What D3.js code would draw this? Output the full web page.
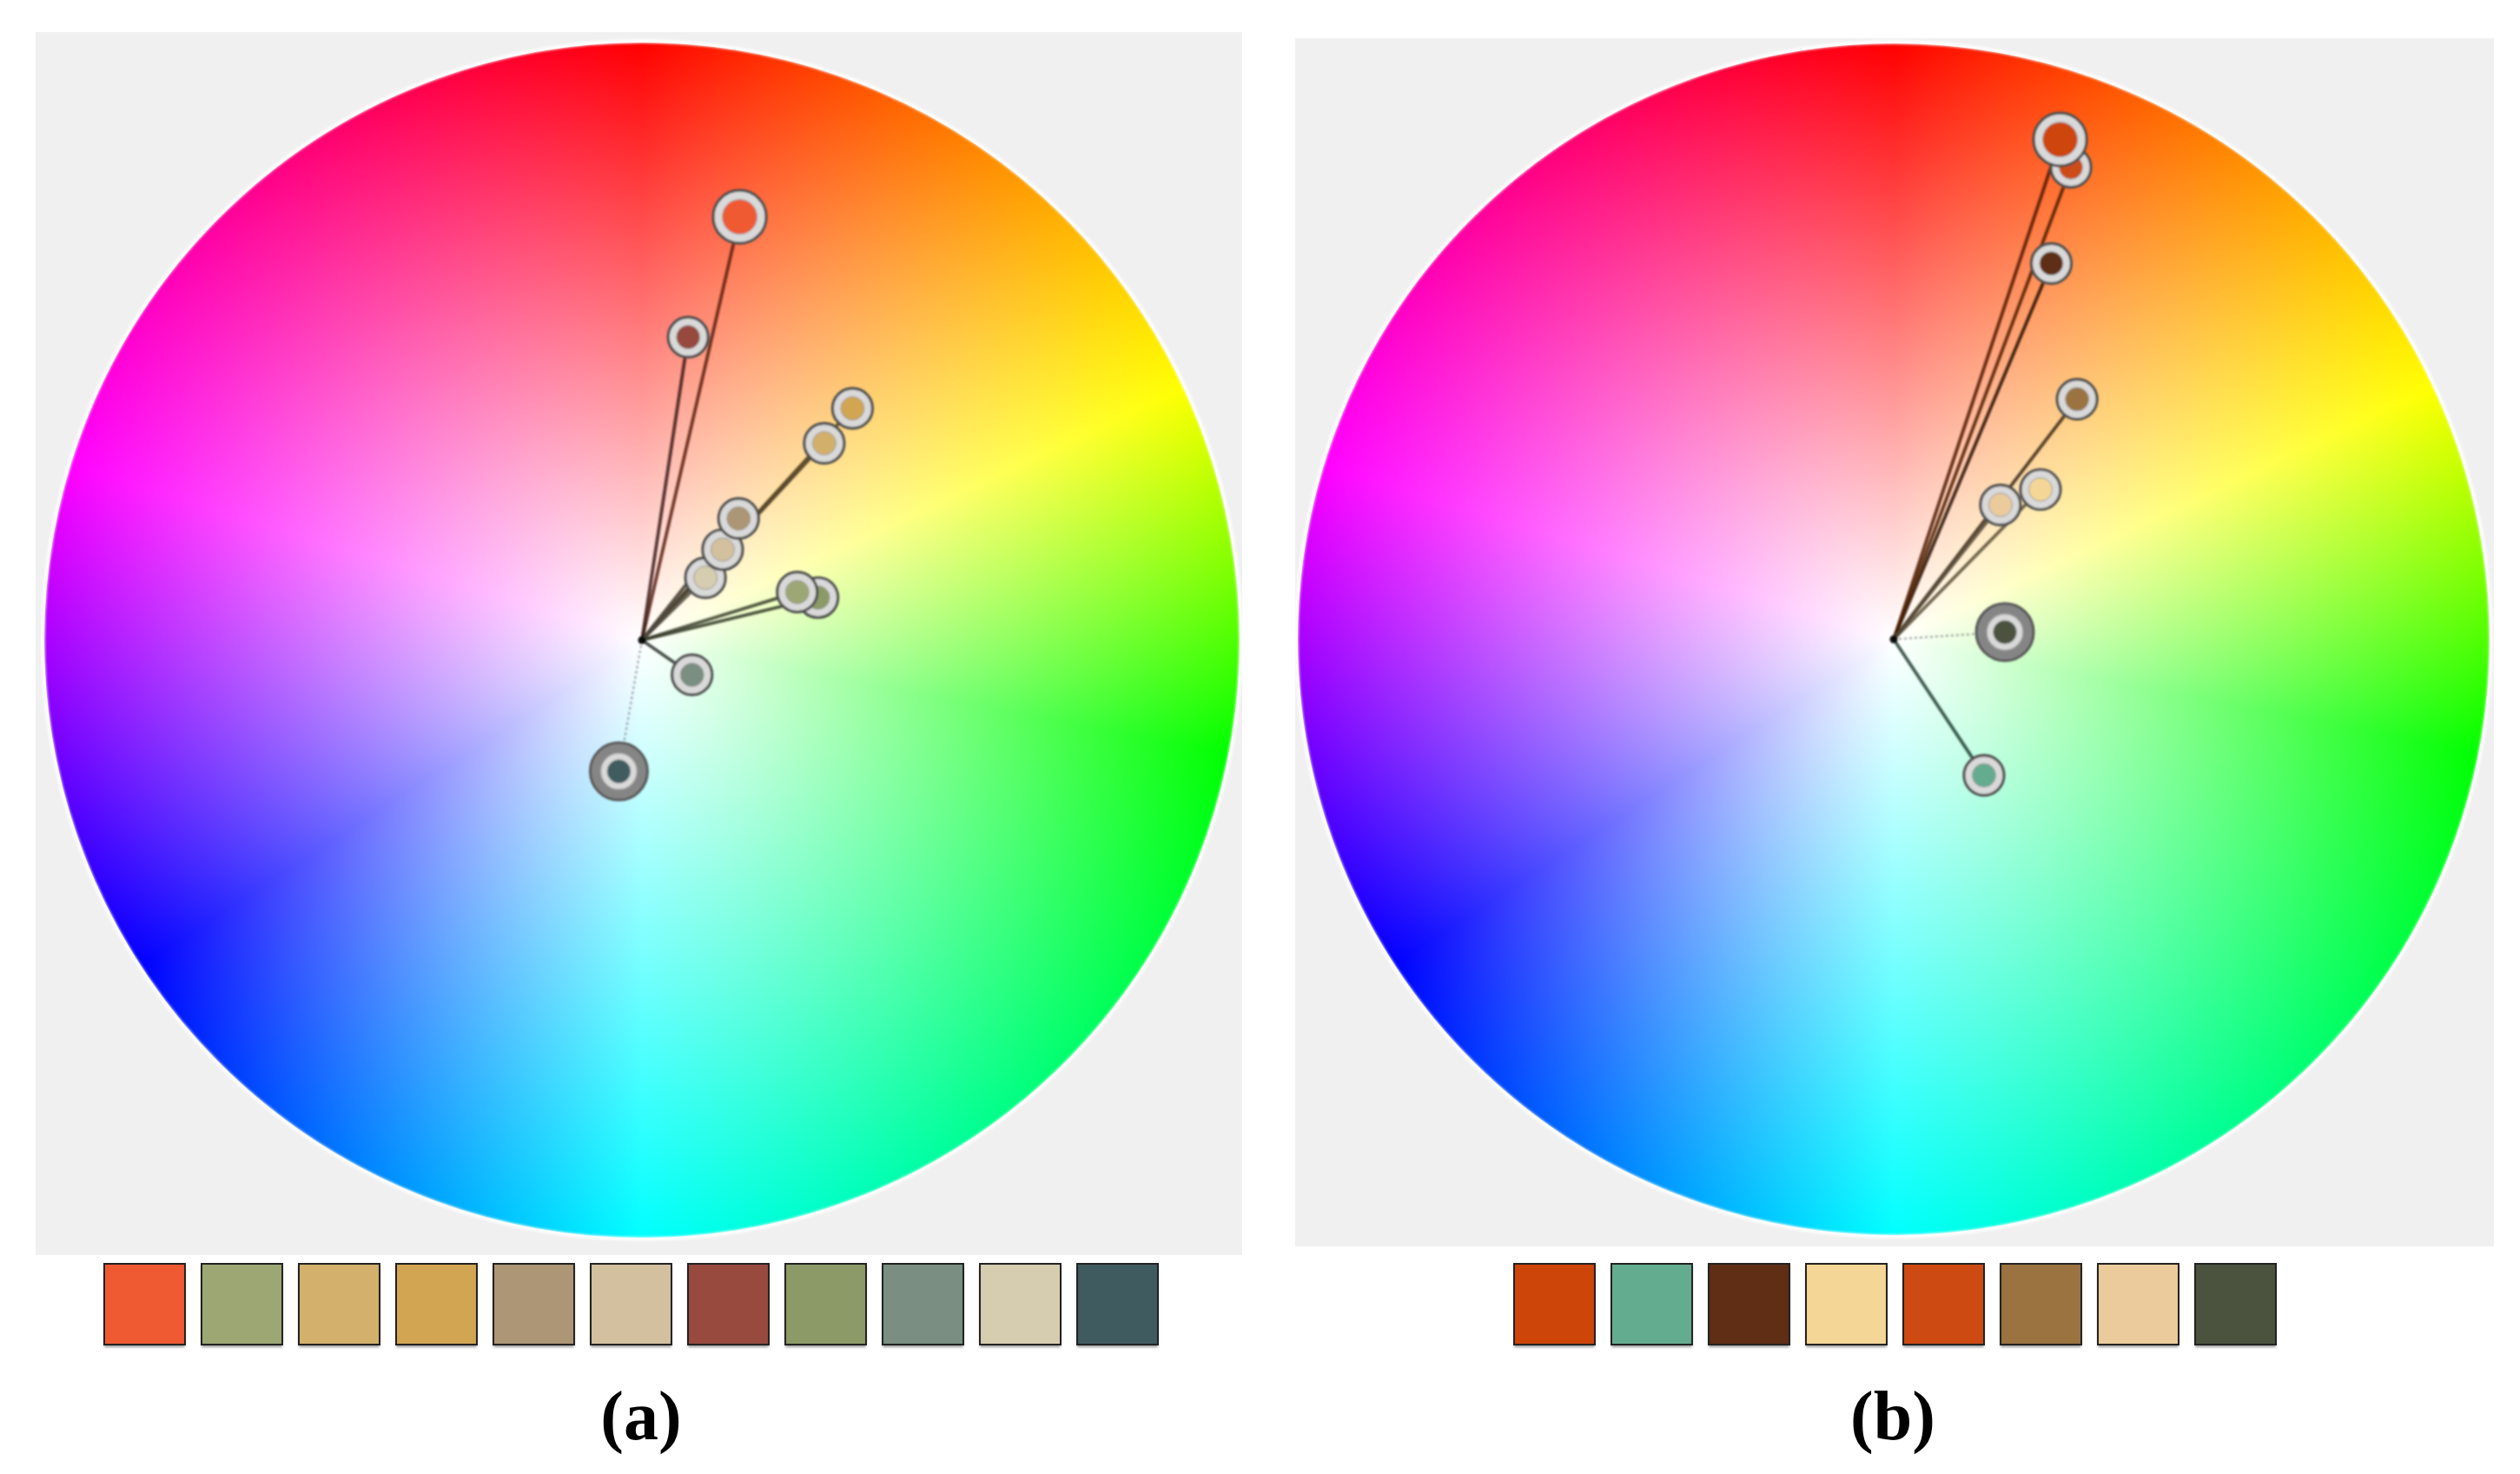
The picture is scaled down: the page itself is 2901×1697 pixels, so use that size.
<!DOCTYPE html>
<html>
<head>
<meta charset="utf-8">
<script src="https://cdn.jsdelivr.net/npm/d3@7/dist/d3.min.js"></script>
<style>
  body { margin: 0; background: #ffffff; }
  svg { display: block; }
</style>
</head>
<body>
<svg id="chart"></svg>
<script>
// Palette (a): swatch colours, their hue (deg) and their distance from the wheel centre (0..1)
const colorsA = ["#F05A32", "#9CA774", "#D3B06B", "#D2A553", "#AD9675", "#D2C09F", "#974A3D", "#8C9A67", "#7A8E81", "#D6CCAF", "#405B5F"];
const huesA = [12, 73, 39.5, 39, 35.5, 38.5, 8, 79, 138, 42, 190.5];
const satsA = [0.727, 0.272, 0.449, 0.524, 0.26, 0.203, 0.513, 0.303, 0.102, 0.149, 0.223];

// Palette (b)
const colorsB = ["#CE4509", "#63AC8F", "#5F2E14", "#F4D696", "#CD4B12", "#9A7340", "#EBCB9C", "#4B533F"];
const huesB = [17, 154.5, 21, 41, 19, 34.5, 35.5, 95.5];
const satsB = [0.884, 0.274, 0.684, 0.352, 0.846, 0.507, 0.288, 0.187];

const panelLabels = ["(a)", "(b)"];

const width = 2901;
const height = 1697;

const svg = d3.select("#chart").attr("width", width).attr("height", height);

// hue -> angle on this wheel (not evenly spaced: yellow/green squeezed, cyan at the bottom)
const hueAngle = d3
  .scaleLinear()
  .domain([0, 60, 120, 180, 240, 300, 360])
  .range([0, 65, 101, 180, 237, 287, 360].map((d) => (d * Math.PI) / 180));

const defs = svg.append("defs");
defs
  .append("filter")
  .attr("id", "soft")
  .attr("x", "-20%").attr("y", "-20%").attr("width", "140%").attr("height", "140%")
  .append("feGaussianBlur")
  .attr("stdDeviation", 1.2);
defs
  .append("filter")
  .attr("id", "rimblur")
  .append("feGaussianBlur")
  .attr("stdDeviation", 1.5);

// Paint the hue/saturation wheel into a canvas and return it as an image url
const wheelImage = (R) => {
  const size = Math.ceil(2 * R) + 4;
  const c = size / 2;
  const canvas = document.createElement("canvas");
  canvas.width = size;
  canvas.height = size;
  const ctx = canvas.getContext("2d");
  const img = ctx.createImageData(size, size);

  // pure colour for every tenth of a degree around the wheel
  const lut = [];
  for (let i = 0; i <= 3600; i++) {
    const h = hueAngle.invert(((i / 10) * Math.PI) / 180);
    const rgb = d3.hsl(h, 1, 0.5).rgb();
    lut.push([rgb.r, rgb.g, rgb.b]);
  }

  for (let y = 0; y < size; y++) {
    for (let x = 0; x < size; x++) {
      const dx = x + 0.5 - c;
      const dy = y + 0.5 - c;
      const dist = Math.hypot(dx, dy);
      if (dist > R + 1) continue;
      let a = (Math.atan2(dx, -dy) * 180) / Math.PI;
      if (a < 0) a += 360;
      const p = lut[Math.round(a * 10)];
      const t = Math.min(dist / R, 1);
      const k = (y * size + x) * 4;
      img.data[k] = 255 + (p[0] - 255) * t;
      img.data[k + 1] = 255 + (p[1] - 255) * t;
      img.data[k + 2] = 255 + (p[2] - 255) * t;
      img.data[k + 3] = 255 * Math.max(0, Math.min(1, R + 0.5 - dist));
    }
  }
  ctx.putImageData(img, 0, 0);
  return { url: canvas.toDataURL(), size };
};

const drawPanel = (panel) => {
  const g = svg.append("g");

  // grey backdrop
  g.append("rect")
    .attr("x", panel.box[0])
    .attr("y", panel.box[1])
    .attr("width", panel.box[2] - panel.box[0])
    .attr("height", panel.box[3] - panel.box[1])
    .attr("fill", "#f0f0f0");

  // wheel
  const wheel = wheelImage(panel.R);
  g.append("image")
    .attr("href", wheel.url)
    .attr("x", panel.cx - wheel.size / 2)
    .attr("y", panel.cy - wheel.size / 2)
    .attr("width", wheel.size)
    .attr("height", wheel.size);

  g.append("circle")
    .attr("cx", panel.cx)
    .attr("cy", panel.cy)
    .attr("r", panel.R + 1.5)
    .attr("fill", "none")
    .attr("stroke", "#ffffff")
    .attr("stroke-width", 4)
    .attr("filter", "url(#rimblur)");

  const rScale = d3.scaleLinear().domain([0, 1]).range([0, panel.R]);

  const items = panel.colors.map((color, i) => {
    const [x, y] = d3.pointRadial(hueAngle(panel.hues[i]), rScale(panel.sats[i]));
    return { color, i, x: panel.cx + x, y: panel.cy + y };
  });
  const last = items.length - 1;

  const marks = g
    .append("g")
    .attr("filter", "url(#soft)");

  // spokes from the centre to every colour
  marks
    .selectAll(".spoke")
    .data(items)
    .join("line")
    .attr("class", "spoke")
    .attr("x1", panel.cx)
    .attr("y1", panel.cy)
    .attr("x2", (d) => d.x)
    .attr("y2", (d) => d.y)
    .attr("stroke", (d) => (d.i === last ? "#808080" : d3.color(d.color).darker(2.8).formatHex()))
    .attr("stroke-width", (d) => (d.i === last ? 2.2 : 3.8))
    .attr("stroke-dasharray", (d) => (d.i === last ? "3 3" : null))
    .attr("stroke-opacity", (d) => (d.i === last ? 0.7 : 0.85));

  marks
    .append("circle")
    .attr("cx", panel.cx)
    .attr("cy", panel.cy)
    .attr("r", 4.5)
    .attr("fill", "#111");

  // colour markers, first colour of the palette drawn last (on top)
  const marker = marks
    .selectAll(".marker")
    .data(items.slice().reverse())
    .join("g")
    .attr("class", "marker")
    .attr("transform", (d) => `translate(${d.x},${d.y})`);

  marker
    .filter((d) => d.i === last)
    .append("circle")
    .attr("r", 33)
    .attr("fill", "#858585")
    .attr("stroke", "#585858")
    .attr("stroke-width", 3);

  marker
    .append("circle")
    .attr("r", (d) => (d.i === 0 ? 30.5 : d.i === last ? 21 : 23))
    .attr("fill", "#d9d9d9")
    .attr("stroke", (d) => (d.i === last ? "#9a9a9a" : "#4f4f4f"))
    .attr("stroke-width", (d) => (d.i === last ? 1.5 : 3.2));

  marker
    .append("circle")
    .attr("r", (d) => (d.i === 0 ? 20 : 13.5))
    .attr("fill", (d) => d.color)
    .attr("stroke", "#9a9a9a")
    .attr("stroke-width", 1);

  // swatches under the wheel
  const band = d3
    .scaleBand()
    .domain(d3.range(panel.colors.length))
    .range(panel.swatchRange)
    .paddingInner(0.17)
    .paddingOuter(0);

  const sw = g.append("g");
  sw.selectAll(".shadow")
    .data(panel.colors)
    .join("rect")
    .attr("class", "shadow")
    .attr("x", (d, i) => band(i))
    .attr("y", panel.swatchY + 3)
    .attr("width", band.bandwidth())
    .attr("height", panel.swatchH)
    .attr("fill", "#9a9a9a")
    .attr("filter", "url(#rimblur)");

  sw.selectAll(".swatch")
    .data(panel.colors)
    .join("rect")
    .attr("class", "swatch")
    .attr("x", (d, i) => band(i))
    .attr("y", panel.swatchY)
    .attr("width", band.bandwidth())
    .attr("height", panel.swatchH)
    .attr("fill", (d) => d)
    .attr("stroke", "#222")
    .attr("stroke-width", 2);

  g.append("text")
    .attr("x", panel.labelX)
    .attr("y", 1657)
    .attr("text-anchor", "middle")
    .style("font-family", "'Liberation Serif', 'DejaVu Serif', serif")
    .style("font-weight", "bold")
    .style("font-size", "80px")
    .style("fill", "#000")
    .text(panel.label);
};

drawPanel({
  colors: colorsA,
  hues: huesA,
  sats: satsA,
  label: panelLabels[0],
  box: [41, 37, 1430, 1445],
  cx: 739,
  cy: 737,
  R: 688,
  swatchRange: [120, 1333],
  swatchY: 1455,
  swatchH: 93,
  labelX: 738,
});

drawPanel({
  colors: colorsB,
  hues: huesB,
  sats: satsB,
  label: panelLabels[1],
  box: [1491, 44, 2871, 1435],
  cx: 2180,
  cy: 736,
  R: 686,
  swatchRange: [1743, 2620],
  swatchY: 1455,
  swatchH: 93,
  labelX: 2179,
});
</script>
</body>
</html>
